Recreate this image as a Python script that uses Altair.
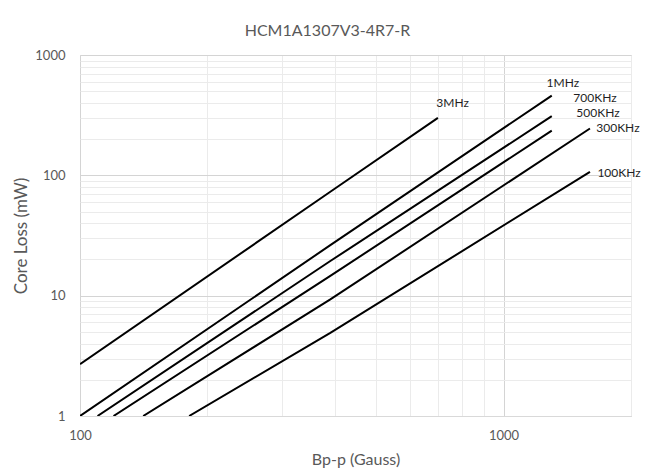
import altair as alt
import pandas as pd

# ---- data ----
series_names = ["3MHz", "1MHz", "700KHz", "500KHz", "300KHz", "100KHz"]

bpp_3M = [100, 390, 700]
loss_3M = [2.7, 73, 300]
bpp_1M = [100, 390, 1300]
loss_1M = [1.0, 26.3, 460]
bpp_700K = [110, 390, 1300]
loss_700K = [1.0, 19.4, 310]
bpp_500K = [120, 390, 1300]
loss_500K = [1.0, 14.6, 235]
bpp_300K = [141, 390, 1600]
loss_300K = [1.0, 9.3, 245]
bpp_100K = [181, 390, 1600]
loss_100K = [1.0, 4.9, 107]

# label anchor positions (data coordinates, left edge of text)
label_x = [694, 1264, 1462, 1486, 1656, 1666]
label_y = [397, 589, 437, 331, 249, 105]

x_grid = [100, 200, 300, 400, 500, 600, 700, 800, 900, 1000, 2000]
y_grid = [1, 2, 3, 4, 5, 6, 7, 8, 9,
          10, 20, 30, 40, 50, 60, 70, 80, 90,
          100, 200, 300, 400, 500, 600, 700, 800, 900, 1000]

all_bpp = [bpp_3M, bpp_1M, bpp_700K, bpp_500K, bpp_300K, bpp_100K]
all_loss = [loss_3M, loss_1M, loss_700K, loss_500K, loss_300K, loss_100K]

rows = []
for name, xs, ys in zip(series_names, all_bpp, all_loss):
    for i, (xv, yv) in enumerate(zip(xs, ys)):
        rows.append({"series": name, "bpp": xv, "loss": yv, "i": i})
df = pd.DataFrame(rows)
labels_df = pd.DataFrame({"series": series_names, "bpp": label_x, "loss": label_y})

FONT = "Lato"
GRAY = "#595959"

x_scale = alt.Scale(type="log", domain=[100, 2000], nice=False)
y_scale = alt.Scale(type="log", domain=[1, 1000], nice=False)

x_axis = alt.Axis(
    values=x_grid,
    labelExpr="(datum.value == 100 || datum.value == 1000) ? (datum.value + '') : ''",
    gridColor={"condition": {"test": "datum.value == 100 || datum.value == 1000",
                             "value": "#d4d4d4"}, "value": "#ebebeb"},
    ticks=False, tickSize=0,
    domainColor="#d9d9d9",
    labelFlush=False,
    labelPadding=13, labelFontSize=13, labelColor=GRAY, labelFont=FONT,
    title="Bp-p (Gauss)", titleFontSize=16, titleColor=GRAY, titleFont=FONT,
    titleFontWeight="normal", titlePadding=9,
)
y_axis = alt.Axis(
    values=y_grid,
    labelExpr="(datum.value == 1 || datum.value == 10 || datum.value == 100 || datum.value == 1000) ? (datum.value + '') : ''",
    gridColor={"condition": {"test": "datum.value == 1 || datum.value == 10 || datum.value == 100 || datum.value == 1000",
                             "value": "#d4d4d4"}, "value": "#ebebeb"},
    ticks=False, tickSize=0,
    domain=False,
    labelFlush=False,
    labelPadding=15, labelFontSize=13, labelColor=GRAY, labelFont=FONT,
    title="Core Loss (mW)", titleFontSize=17, titleColor=GRAY, titleFont=FONT,
    titleFontWeight="normal", titlePadding=4,
)

lines = alt.Chart(df).mark_line(color="black", strokeWidth=2, clip=True).encode(
    x=alt.X("bpp:Q", scale=x_scale, axis=x_axis),
    y=alt.Y("loss:Q", scale=y_scale, axis=y_axis),
    detail="series:N",
    order="i:Q",
)

texts = alt.Chart(labels_df).mark_text(
    align="left", baseline="middle", fontSize=12, font=FONT, color="#1f1f1f"
).encode(
    x=alt.X("bpp:Q", scale=x_scale),
    y=alt.Y("loss:Q", scale=y_scale),
    text="series:N",
)

chart = alt.layer(lines, texts).properties(
    width=551,
    height=361,
    title=alt.TitleParams(
        text="HCM1A1307V3-4R7-R", fontSize=16, font=FONT, color=GRAY,
        fontWeight="normal", anchor="middle", dx=-28, offset=10,
    ),
    padding={"left": 80, "top": 55, "right": 32, "bottom": 58},
    autosize=alt.AutoSizeParams(type="none"),
).configure_view(stroke=None).configure(background="white")

chart.save("out.html", embed_options={"renderer": "svg", "actions": False})
